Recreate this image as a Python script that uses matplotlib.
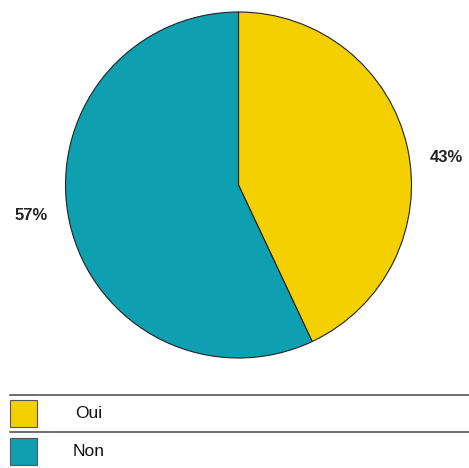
import matplotlib.pyplot as plt
from matplotlib.patches import Rectangle

categories = ['Oui', 'Non']
values = [43, 57]
colors = ['#F4D000', '#0E9FB0']

fig = plt.figure(figsize=(4.69, 4.68), dpi=100)
ax = fig.add_axes([0, 0, 1, 1])

# pie in pixel-like coords (y axis inverted, so counterclock in data = clockwise on screen)
cx, cy, r = 238.5, 185, 173
ax.pie(values, colors=colors, startangle=-90, counterclock=True,
       center=(cx, cy), radius=r, frame=True,
       wedgeprops=dict(edgecolor='#222222', linewidth=0.8))
ax.set_xlim(0, 469)
ax.set_ylim(468, 0)
ax.set_aspect('auto')
ax.axis('off')

# percentage labels
label_pos = [(446, 157), (31, 215)]
for (x, y), v in zip(label_pos, values):
    ax.text(x, y, f'{v}%', ha='center', va='center', fontsize=12,
            fontweight='bold', family='Liberation Sans', color='#222222')

# legend table
line_ys = [395, 432]
for y in line_ys:
    ax.plot([10, 469], [y, y], color='#555555', lw=1.2)
box_ys = [400, 438]
text_x = [75, 73]
for y, c, name, tx in zip(box_ys, colors, categories, text_x):
    ax.add_patch(Rectangle((10, y), 27, 27, facecolor=c, edgecolor='#555555', lw=0.8))
    ax.text(tx, y + 13.5, name, ha='left', va='center', fontsize=12.5,
            family='Liberation Sans', color='#111111')

fig.savefig('out.png', dpi=100)
